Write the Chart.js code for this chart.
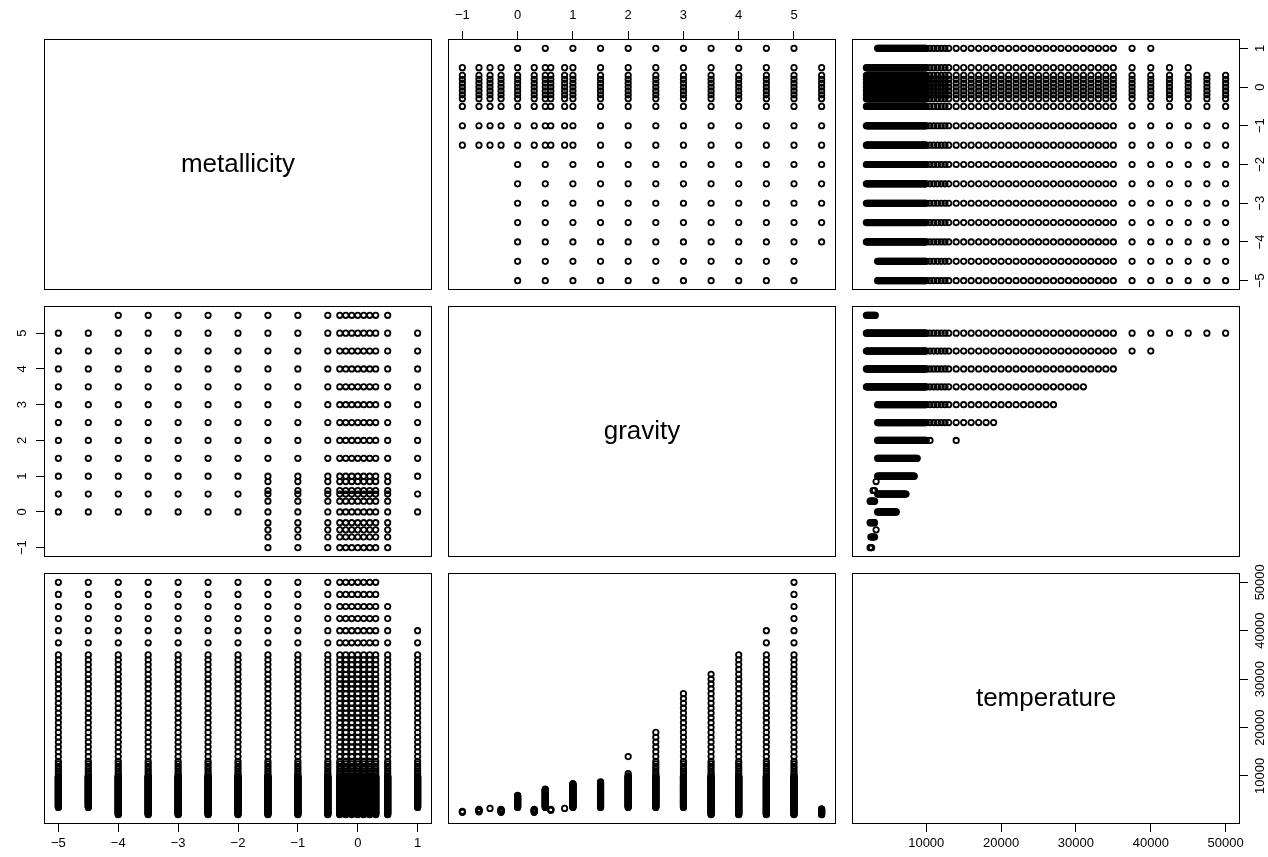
<!DOCTYPE html>
<html>
<head>
<meta charset="utf-8">
<script src="https://cdn.jsdelivr.net/npm/chart.js@4.4.0/dist/chart.umd.min.js"></script>
<style>
  html, body { margin: 0; padding: 0; background: #fff; }
  #grid { position: relative; width: 1268px; height: 857px; overflow: hidden; background: #fff; }
  #grid canvas { position: absolute; }
</style>
</head>
<body>
<div id="grid"></div>
<script>
// model grid: metallicity [M/H], surface gravity (log g), effective temperature (K)
var METALLICITY = [-5, -4.5, -4, -3.5, -3, -2.5, -2, -1.5, -1, -0.5, -0.3, -0.2, -0.1, 0, 0.1, 0.2, 0.3, 0.5, 1];
var GRAVITY = [-1, -0.7, -0.5, -0.3, 0, 0.3, 0.5, 0.6, 0.85, 1, 1.5, 2, 2.5, 3, 3.5, 4, 4.5, 5, 5.5];
var TEMPERATURE = [
  2000, 2100, 2200, 2300, 2400, 2500, 2600, 2700, 2800, 2900,
  3000, 3100, 3200, 3300, 3400, 3500, 3600, 3700, 3800, 3900,
  4000, 4100, 4200, 4300, 4400, 4500, 4600, 4700, 4800, 4900,
  5000, 5100, 5200, 5300, 5400, 5500, 5600, 5700, 5800, 5900,
  6000, 6100, 6200, 6300, 6400, 6500, 6600, 6700, 6800, 6900,
  7000, 7100, 7200, 7300, 7400, 7500, 7600, 7700, 7800, 7900,
  8000, 8100, 8200, 8300, 8400, 8500, 8600, 8700, 8800, 8900,
  9000, 9100, 9200, 9300, 9400, 9500, 9600, 9700, 9800, 9900,
  10000, 10500, 11000, 11500, 12000, 12500,
  13000, 14000, 15000, 16000, 17000, 18000, 19000, 20000, 21000, 22000, 23000, 24000,
  25000, 26000, 27000, 28000, 29000, 30000, 31000, 32000, 33000, 34000, 35000,
  37500, 40000, 42500, 45000, 47500, 50000
];

// log g values available per metallicity
var GRAVITY_COARSE = [0, 0.5, 1, 1.5, 2, 2.5, 3, 3.5, 4, 4.5, 5, 5.5];
var MET_WITH_FINE_GRAVITY = [-1.5, -1, -0.5, -0.3, -0.2, -0.1, 0, 0.1, 0.2, 0.3, 0.5];
var MET_GRAVITY_MAX = [5, 5, 5.5, 5.5, 5.5, 5.5, 5.5, 5.5, 5.5, 5.5, 5.5, 5.5, 5.5, 5.5, 5.5, 5.5, 5.5, 5.5, 5];

// temperature span per metallicity (same order as METALLICITY)
var MET_TEFF_MIN = [3500, 3500, 2000, 2000, 2000, 2000, 2000, 2000, 2000, 2000, 2000, 2000, 2000, 2000, 2000, 2000, 2000, 2000, 3500];
var MET_TEFF_MAX = [50000, 50000, 50000, 50000, 50000, 50000, 50000, 50000, 50000, 50000, 50000, 50000, 50000, 50000, 50000, 50000, 50000, 45000, 40000];

// temperature span per log g (same order as GRAVITY)
var GRAV_TEFF_MIN = [2500, 2600, 3300, 2500, 3500, 2500, 3500, 2900, 3300, 3500, 3500, 3500, 3500, 3500, 2000, 2000, 2000, 2000, 2000];
var GRAV_TEFF_MAX = [2700, 3100, 3300, 3100, 6000, 3100, 7300, 3100, 3300, 8400, 8800, 10500, 19000, 27000, 31000, 35000, 40000, 50000, 3200];
var GRAV_TEFF_EXTRA = [[], [], [], [], [], [], [], [], [], [], [], [14000], [], [], [], [], [], [], []];

var MET_TICKS = [-5, -4, -3, -2, -1, 0, 1];
var GRAV_TICKS = [-1, 0, 1, 2, 3, 4, 5];
var TEMP_TICKS = [10000, 20000, 30000, 40000, 50000];
var LABELS = ['metallicity', 'gravity', 'temperature'];

// page layout
var COL_LEFT = [44, 448, 852];
var ROW_TOP = [39, 306, 573];
var BOX_W = 388, BOX_H = 251, M = 40;
var FONT_FAMILY = "'Liberation Sans', Arial, Helvetica, sans-serif";
var TICK_PX = 13, TICK_LEN = 8;

function padRange(values) {
  var lo = Math.min.apply(null, values), hi = Math.max.apply(null, values);
  var d = (hi - lo) * 0.04;
  return { lo: lo - d, hi: hi + d };
}

var vars = [
  { key: 'metallicity', ticks: MET_TICKS, range: padRange(METALLICITY) },
  { key: 'gravity', ticks: GRAV_TICKS, range: padRange(GRAVITY) },
  { key: 'temperature', ticks: TEMP_TICKS, range: padRange(TEMPERATURE) }
];

// pairwise point sets
var pairMG = [], pairMT = [], pairGT = [];
METALLICITY.forEach(function(m, i){
  var gs = MET_WITH_FINE_GRAVITY.indexOf(m) >= 0 ? GRAVITY : GRAVITY_COARSE;
  gs.forEach(function(g){
    if (g <= MET_GRAVITY_MAX[i]) pairMG.push({ metallicity: m, gravity: g });
  });
  TEMPERATURE.forEach(function(t){
    if (t >= MET_TEFF_MIN[i] && t <= MET_TEFF_MAX[i]) pairMT.push({ metallicity: m, temperature: t });
  });
});
GRAVITY.forEach(function(g, i){
  TEMPERATURE.forEach(function(t){
    if ((t >= GRAV_TEFF_MIN[i] && t <= GRAV_TEFF_MAX[i]) || GRAV_TEFF_EXTRA[i].indexOf(t) >= 0)
      pairGT.push({ gravity: g, temperature: t });
  });
});

function pointsFor(xKey, yKey){
  var sets = [pairMG, pairMT, pairGT];
  for (var s = 0; s < sets.length; s++){
    var p0 = sets[s][0];
    if (xKey in p0 && yKey in p0){
      return sets[s].map(function(p){ return { x: p[xKey], y: p[yKey] }; });
    }
  }
  return [];
}

var measureCtx = document.createElement('canvas').getContext('2d');
function fmt(v){ return v < 0 ? '\u2212' + Math.abs(v) : String(v); }
function widest(ticks){
  measureCtx.font = TICK_PX + 'px ' + FONT_FAMILY;
  var w = 0;
  ticks.forEach(function(t){ w = Math.max(w, measureCtx.measureText(fmt(t)).width); });
  return w;
}

function scaleOpts(v, axis, position, shown){
  var o = {
    type: 'linear', axis: axis, position: position, display: shown,
    min: v.range.lo, max: v.range.hi,
    border: { display: false },
    grid: { display: true, drawOnChartArea: false, drawTicks: true, tickLength: TICK_LEN,
            lineWidth: 1, tickWidth: 1, tickColor: '#000', color: '#000' },
    ticks: { autoSkip: false, color: '#000', font: { family: FONT_FAMILY, size: TICK_PX },
             callback: function(value){ return fmt(value); } },
    afterBuildTicks: function(s){ s.ticks = v.ticks.map(function(t){ return { value: t }; }); },
    afterFit: function(s){
      var size = shown ? M : 0;
      if (axis === 'x') s.height = size; else s.width = size;
      s.paddingLeft = s.paddingRight = s.paddingTop = s.paddingBottom = 0;
    }
  };
  if (axis === 'x') {
    o.ticks.padding = position === 'top' ? 8.2 : 3.2;
  } else {
    o.ticks.minRotation = 90;
    o.ticks.maxRotation = 90;
    o.ticks.crossAlign = 'center';
    var off = position === 'left' ? 21.5 : 20.5;
    o.ticks.padding = off - TICK_LEN - widest(v.ticks) / 2;
  }
  return o;
}

var framePlugin = {
  id: 'frame',
  afterDraw: function(chart, args, opts){
    var a = chart.chartArea, ctx = chart.ctx;
    ctx.save();
    ctx.strokeStyle = '#000';
    ctx.lineWidth = 1;
    ctx.strokeRect(a.left + 0.5, a.top + 0.5, a.right - a.left - 1, a.bottom - a.top - 1);
    if (opts.text) {
      ctx.fillStyle = '#000';
      ctx.font = '26px ' + FONT_FAMILY;
      ctx.textAlign = 'center';
      ctx.textBaseline = 'middle';
      ctx.fillText(opts.text, (a.left + a.right) / 2, (a.top + a.bottom) / 2);
    }
    ctx.restore();
  }
};

var grid = document.getElementById('grid');
for (var r = 0; r < 3; r++){
  for (var c = 0; c < 3; c++){
    var cv = document.createElement('canvas');
    cv.width = BOX_W + 2 * M;
    cv.height = BOX_H + 2 * M;
    cv.style.left = (COL_LEFT[c] - M) + 'px';
    cv.style.top = (ROW_TOP[r] - M) + 'px';
    cv.style.width = cv.width + 'px';
    cv.style.height = cv.height + 'px';
    grid.appendChild(cv);

    var showTop = r === 0 && c === 1;
    var showBottom = r === 2 && (c === 0 || c === 2);
    var showLeft = c === 0 && r === 1;
    var showRight = c === 2 && (r === 0 || r === 2);

    var xv = vars[c], yv = vars[r];
    var datasets = [];
    if (r !== c) {
      datasets.push({
        data: pointsFor(xv.key, yv.key),
        pointStyle: 'circle', pointRadius: 2.7, pointHoverRadius: 2.7,
        pointBorderWidth: 1.8, borderColor: '#000', backgroundColor: 'rgba(0,0,0,0)'
      });
    }

    new Chart(cv, {
      type: 'scatter',
      data: { datasets: datasets },
      options: {
        responsive: false, animation: false, devicePixelRatio: 1, events: [],
        layout: { padding: {
          left: showLeft ? 0 : M, right: showRight ? 0 : M,
          top: showTop ? 0 : M, bottom: showBottom ? 0 : M } },
        scales: {
          x: scaleOpts(xv, 'x', showTop ? 'top' : 'bottom', showTop || showBottom),
          y: scaleOpts(yv, 'y', showLeft ? 'left' : 'right', showLeft || showRight)
        },
        plugins: {
          legend: { display: false }, tooltip: { enabled: false },
          frame: { text: r === c ? LABELS[r] : '' }
        }
      },
      plugins: [framePlugin]
    });
  }
}
</script>
</body>
</html>
